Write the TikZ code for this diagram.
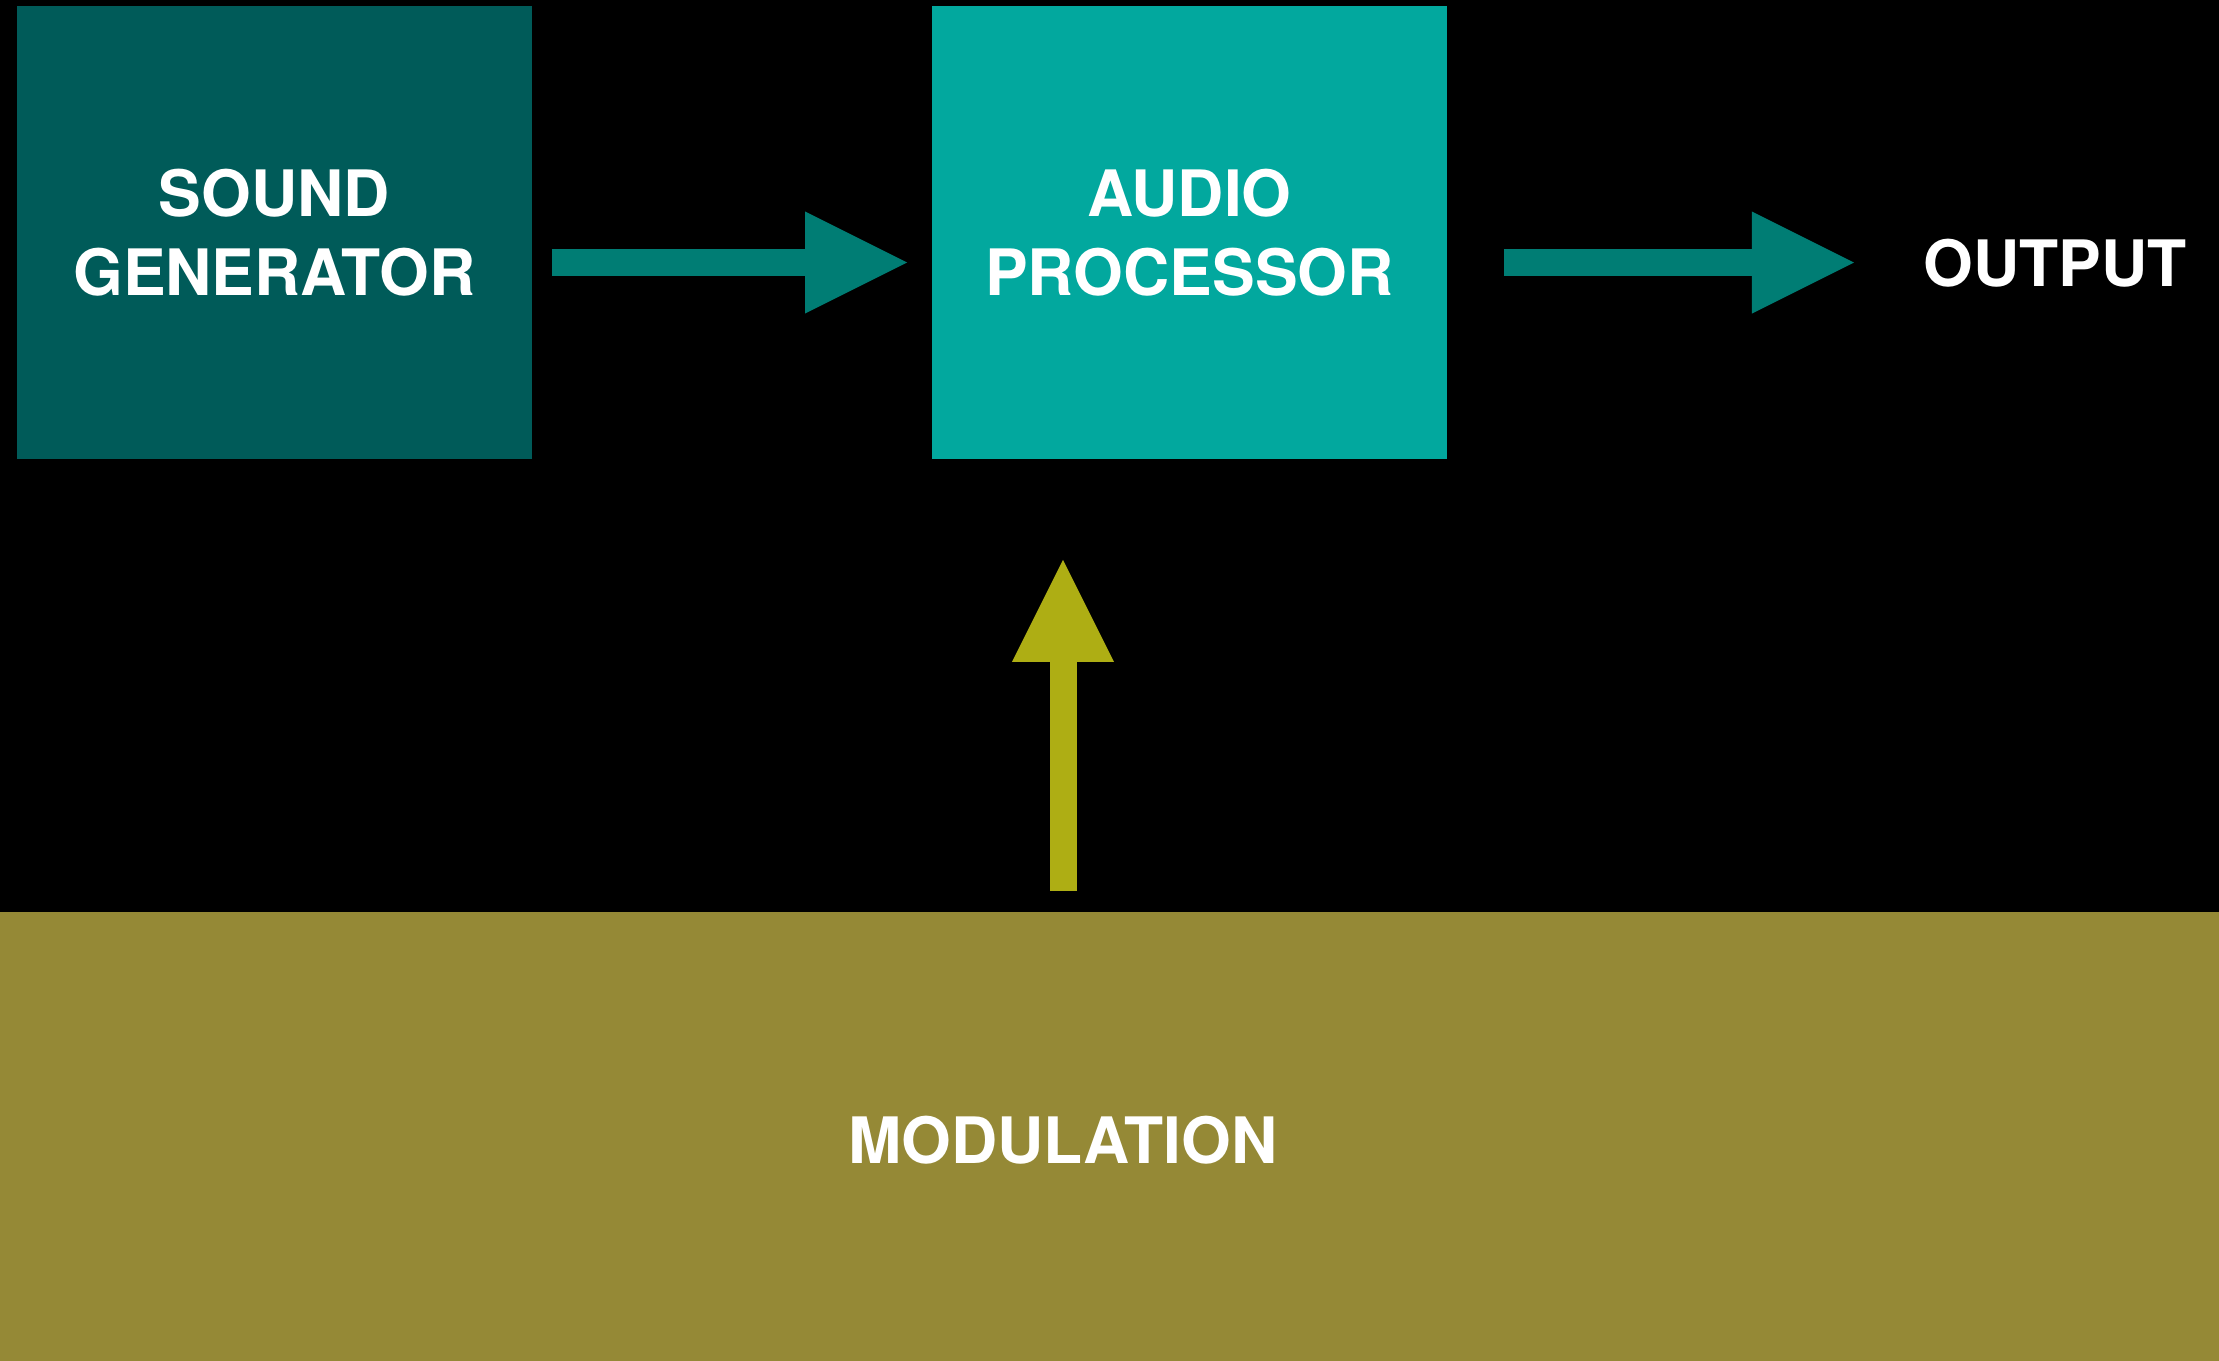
\documentclass[tikz,border=0pt]{standalone}
\usepackage{fontspec}
\setmainfont{TeX Gyre Heros}
\usetikzlibrary{arrows.meta,positioning}
\definecolor{gendark}{HTML}{005B59}
\definecolor{procteal}{HTML}{02A89E}
\definecolor{flowteal}{HTML}{007D74}
\definecolor{modyellow}{HTML}{AEAE14}
\definecolor{modolive}{HTML}{958936}
\tikzset{
    %Define style for blocks
    blok/.style={
           rectangle,
           inner sep=0pt,
           minimum width=5.15cm,
           minimum height=4.53cm,
           text=white,
           align=center,
           font=\fontsize{18.2}{22.3}\selectfont\bfseries},
    % Define arrow style
    pil/.style={
           line width=0.27cm,
           -{Triangle[length=1.02cm,width=1.02cm,line width=0pt]}},
}

\begin{document}
\begin{tikzpicture}[x=0.01cm, y=-0.01cm,
lbl/.style={inner sep=0pt, text=white, font=\fontsize{18.2}{22.3}\selectfont\bfseries},
band/.style={rectangle, inner sep=0pt, fill=modolive, minimum width=22.6cm, minimum height=4.6cm}
]
\useasboundingbox (0,0) rectangle (2219,1360);
\clip (0,0) rectangle (2219,1360);
\fill[black] (-10,-10) rectangle (2229,1370);
%Nodes
\node[blok, fill=gendark] (gen) at (274.5,232.5) {SOUND\\GENERATOR};
\node[blok, fill=procteal] (proc) [right=3.98cm of gen] {AUDIO\\PROCESSOR};
\node[lbl, anchor=west] (out) at (1923,263) {OUTPUT};
\node[band] (modband) at (1109.5,1142) {};
\node[lbl] (mod) at (1063,1140) {MODULATION};
%Arrows
\draw[pil, flowteal, shorten <=0.19cm, shorten >=0.24cm]
    ([yshift=-0.3cm]gen.east) -- ([yshift=-0.3cm]proc.west);
\draw[pil, flowteal, shorten <=0.56cm, shorten >=0.69cm]
    ([yshift=-0.3cm]proc.east) -- ([yshift=-0.3cm]proc.east -| out.west);
\draw[pil, modyellow, shorten <=0.2cm, shorten >=1.0cm]
    (modband.north -| mod) -- (proc.south -| mod);
\end{tikzpicture}
\end{document}
